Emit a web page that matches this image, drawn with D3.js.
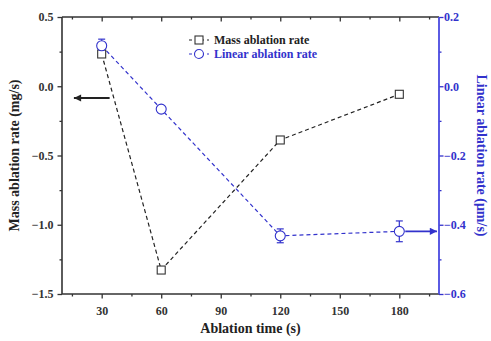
<!DOCTYPE html>
<html>
<head>
<meta charset="utf-8">
<script src="https://cdn.jsdelivr.net/npm/d3@7"></script>
<style>
  body { margin: 0; background: #fff; }
  text { font-family: "Liberation Serif", "Times New Roman", serif; font-weight: bold; }
</style>
</head>
<body>
<svg id="chart" width="491" height="341"></svg>
<script>
// data
const times = [30, 60, 120, 180];
const massRate = [0.233, -1.327, -0.388, -0.058];
const linearRate = [0.117, -0.066, -0.432, -0.419];
const linearErr = [0.019, 0.008, 0.02, 0.03];
const xTicks = [30, 60, 90, 120, 150, 180];
const leftTicks = [0.5, 0.0, -0.5, -1.0, -1.5];
const rightTicks = [0.2, 0.0, -0.2, -0.4, -0.6];

const BLUE = "#3232cc";
const DARK = "#333";

const margin = { top: 17, right: 52, bottom: 47, left: 62 };
const width = 491;
const height = 341;
const innerW = width - margin.left - margin.right;
const innerH = height - margin.top - margin.bottom;

const svg = d3.select("#chart");
const chart = svg.append("g").attr("transform", `translate(${margin.left}, ${margin.top})`);

const x = d3.scaleLinear().domain([10, 200]).range([0, innerW]);
const yL = d3.scaleLinear().domain([-1.5, 0.5]).range([innerH, 0]);
const yR = d3.scaleLinear().domain([-0.6, 0.2]).range([innerH, 0]);

// minor ticks first, then majors on top
function axisPair(g, axisFn, scale, major, minor, color, fmt) {
  g.append("g").call(axisFn(scale).tickValues(minor).tickSize(2.5).tickFormat(""));
  g.append("g").call(axisFn(scale).tickValues(major).tickSize(4.5).tickPadding(4).tickFormat(fmt));
  g.selectAll("path.domain").remove();
  g.selectAll("line").attr("stroke", color).attr("stroke-width", 1.3);
  g.selectAll("text").attr("fill", color).attr("font-size", 12);
}

const xMinor = d3.range(15, 200, 30);
const fmt1 = d3.format(".1f");

const bottomAxis = chart.append("g").attr("transform", `translate(0, ${innerH})`);
axisPair(bottomAxis, d3.axisBottom, x, xTicks, xMinor, DARK, d3.format("d"));
bottomAxis.selectAll("text").attr("dy", "1.05em");

const topAxis = chart.append("g");
axisPair(topAxis, d3.axisBottom, x, xTicks, xMinor, DARK, "");

const leftAxis = chart.append("g");
axisPair(leftAxis, d3.axisLeft, yL, leftTicks, d3.range(-1.25, 0.5, 0.5), DARK, fmt1);

const rightAxis = chart.append("g").attr("transform", `translate(${innerW}, 0)`);
axisPair(rightAxis, d3.axisRight, yR, rightTicks, d3.range(-0.5, 0.2, 0.2), BLUE, fmt1);
rightAxis.selectAll("text").attr("dx", "-0.3em");

// frame
chart.append("line").attr("x1", 0).attr("x2", innerW).attr("y1", 0).attr("y2", 0).attr("stroke", DARK).attr("stroke-width", 1.6);
chart.append("line").attr("x1", 0).attr("x2", innerW).attr("y1", innerH).attr("y2", innerH).attr("stroke", DARK).attr("stroke-width", 1.6);
chart.append("line").attr("x1", 0).attr("x2", 0).attr("y1", 0).attr("y2", innerH).attr("stroke", DARK).attr("stroke-width", 1.6);
chart.append("line").attr("x1", innerW).attr("x2", innerW).attr("y1", 0).attr("y2", innerH).attr("stroke", "#4a4ae0").attr("stroke-width", 1.8);

// series lines
const massData = times.map((t, i) => ({ t, v: massRate[i] }));
const linData = times.map((t, i) => ({ t, v: linearRate[i], e: linearErr[i] }));

chart.append("path")
  .datum(massData)
  .attr("fill", "none")
  .attr("stroke", "#222")
  .attr("stroke-width", 1.2)
  .attr("stroke-dasharray", "4,3")
  .attr("d", d3.line().x((d) => x(d.t)).y((d) => yL(d.v)));

chart.append("path")
  .datum(linData)
  .attr("fill", "none")
  .attr("stroke", BLUE)
  .attr("stroke-width", 1.2)
  .attr("stroke-dasharray", "4,3")
  .attr("d", d3.line().x((d) => x(d.t)).y((d) => yR(d.v)));

// error bars
const eb = chart.selectAll(".err").data(linData).enter().append("g").attr("stroke", BLUE).attr("stroke-width", 1.2);
eb.append("line")
  .attr("x1", (d) => x(d.t)).attr("x2", (d) => x(d.t))
  .attr("y1", (d) => yR(d.v + d.e)).attr("y2", (d) => yR(d.v - d.e));
eb.append("line")
  .attr("x1", (d) => x(d.t) - 3.5).attr("x2", (d) => x(d.t) + 3.5)
  .attr("y1", (d) => yR(d.v + d.e)).attr("y2", (d) => yR(d.v + d.e));
eb.append("line")
  .attr("x1", (d) => x(d.t) - 3.5).attr("x2", (d) => x(d.t) + 3.5)
  .attr("y1", (d) => yR(d.v - d.e)).attr("y2", (d) => yR(d.v - d.e));

// markers
chart.selectAll(".sq").data(massData).enter().append("rect")
  .attr("x", (d) => x(d.t) - 4).attr("y", (d) => yL(d.v) - 4)
  .attr("width", 8).attr("height", 8)
  .attr("fill", "#fff").attr("stroke", "#333").attr("stroke-width", 1.1);

chart.selectAll(".ci").data(linData).enter().append("circle")
  .attr("cx", (d) => x(d.t)).attr("cy", (d) => yR(d.v)).attr("r", 5)
  .attr("fill", "#fff").attr("stroke", BLUE).attr("stroke-width", 1.1);

// arrows pointing to the axes
const defs = svg.append("defs");
[["headBlack", "#222"], ["headBlue", BLUE]].forEach(([id, c]) => {
  defs.append("marker").attr("id", id)
    .attr("viewBox", "0 0 10 10").attr("refX", 10).attr("refY", 5)
    .attr("markerWidth", 5).attr("markerHeight", 4).attr("orient", "auto")
    .append("path").attr("d", "M0,0L10,5L0,10z").attr("fill", c);
});
chart.append("line")
  .attr("x1", x(34)).attr("x2", x(16)).attr("y1", yL(-0.085)).attr("y2", yL(-0.085))
  .attr("stroke", "#222").attr("stroke-width", 1.8).attr("marker-end", "url(#headBlack)");
chart.append("line")
  .attr("x1", x(183)).attr("x2", x(199)).attr("y1", yR(-0.419)).attr("y2", yR(-0.419))
  .attr("stroke", BLUE).attr("stroke-width", 1.8).attr("marker-end", "url(#headBlue)");

// legend
const legend = chart.append("g").attr("transform", "translate(127, 23)");
const legendItems = [
  { label: "Mass ablation rate", color: "#222", shape: "square" },
  { label: "Linear ablation rate", color: BLUE, shape: "circle" },
];
legendItems.forEach((item, i) => {
  const g = legend.append("g").attr("transform", `translate(0, ${i * 14})`);
  g.append("line").attr("x1", 0).attr("x2", 20).attr("y1", 0).attr("y2", 0)
    .attr("stroke", item.color).attr("stroke-width", 1.2).attr("stroke-dasharray", "3,3");
  if (item.shape === "square") {
    g.append("rect").attr("x", 6).attr("y", -4).attr("width", 8).attr("height", 8)
      .attr("fill", "#fff").attr("stroke", "#333").attr("stroke-width", 1.1);
  } else {
    g.append("circle").attr("cx", 10).attr("cy", 0).attr("r", 4.5)
      .attr("fill", "#fff").attr("stroke", BLUE).attr("stroke-width", 1.1);
  }
  g.append("text").attr("x", 25).attr("y", 4).attr("font-size", 12)
    .attr("fill", item.color).text(item.label);
});

// axis titles
svg.append("text")
  .attr("x", margin.left + innerW / 2).attr("y", 333)
  .attr("text-anchor", "middle").attr("font-size", 14).attr("fill", "#222")
  .text("Ablation time (s)");

svg.append("text")
  .attr("transform", "rotate(-90)")
  .attr("x", -(margin.top + innerH / 2)).attr("y", 19)
  .attr("text-anchor", "middle").attr("font-size", 14).attr("fill", "#222")
  .text("Mass ablation rate (mg/s)");

svg.append("text")
  .attr("transform", "rotate(90)")
  .attr("x", margin.top + innerH / 2).attr("y", -477)
  .attr("text-anchor", "middle").attr("font-size", 14).attr("fill", BLUE)
  .text("Linear ablation rate (μm/s)");
</script>
</body>
</html>
